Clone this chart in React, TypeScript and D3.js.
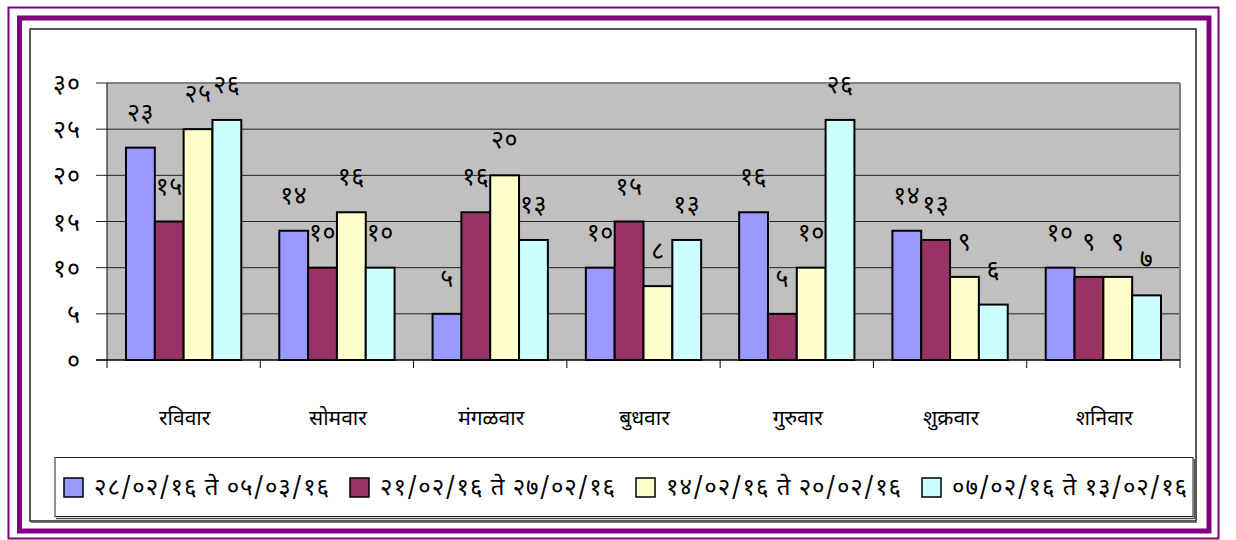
import React from "react";
import * as d3 from "d3";

const days = ["रविवार", "सोमवार", "मंगळवार", "बुधवार", "गुरुवार", "शुक्रवार", "शनिवार"];
const seriesNames = [
  "२८/०२/१६ ते ०५/०३/१६",
  "२१/०२/१६ ते २७/०२/१६",
  "१४/०२/१६ ते २०/०२/१६",
  "०७/०२/१६ ते १३/०२/१६",
];
const s1 = [23, 14, 5, 10, 16, 14, 10];
const s2 = [15, 10, 16, 15, 5, 13, 9];
const s3 = [25, 16, 20, 8, 10, 9, 9];
const s4 = [26, 10, 13, 13, 26, 6, 7];
const seriesValues = [s1, s2, s3, s4];
const yTicks = [0, 5, 10, 15, 20, 25, 30];
const colors = ["#9999FF", "#993366", "#FFFFCC", "#CCFFFF"];

const devDigits = "०१२३४५६७८९";
const toDev = (n: number) => String(n).replace(/[0-9]/g, (d) => devDigits[+d]);

const FONT = "'Noto Sans Devanagari', 'Noto Sans', 'Lohit Devanagari', sans-serif";

export default function App() {
  const W = 1236, H = 540;
  const plotL = 107, plotR = 1180, plotT = 83, plotB = 360;
  const x = d3.scaleBand<string>().domain(days).range([plotL, plotR]).padding(0);
  const step = x.step();
  const gapSide = 19;
  const xs = d3.scaleBand<number>().domain([0, 1, 2, 3]).range([gapSide, step - gapSide]).padding(0);
  const y = d3.scaleLinear().domain([0, 30]).range([plotB, plotT]);
  const legendX = d3.scaleLinear().domain([0, 1]).range([64, 350]);

  return (
    <svg width={W} height={H} style={{ position: "absolute", left: 0, top: 0, background: "#fff" }} fontFamily={FONT}>
      {/* decorative borders */}
      <rect x={8.5} y={7.5} width={1210} height={531} fill="none" stroke="#800080" strokeWidth={2} />
      <rect x={19.5} y={18} width={1189.5} height={513} fill="none" stroke="#800080" strokeWidth={5} />
      {/* chart area */}
      <rect x={30} y={29} width={1166} height={492} fill="#fff" stroke="#222" strokeWidth={1.5} />
      <line x1={31} x2={1197} y1={522.5} y2={522.5} stroke="#777" strokeWidth={1} />

      {/* plot area */}
      <rect x={plotL} y={plotT} width={plotR - plotL} height={plotB - plotT} fill="#C0C0C0" />
      {yTicks.filter((t) => t > 0 && t < 30).map((t) => (
        <line key={t} x1={plotL} x2={plotR} y1={y(t)} y2={y(t)} stroke="#222" strokeWidth={1} />
      ))}
      <line x1={plotL} x2={plotR} y1={plotT} y2={plotT} stroke="#808080" strokeWidth={2} />
      <line x1={plotR} x2={plotR} y1={plotT} y2={plotB} stroke="#808080" strokeWidth={2} />

      {/* bars */}
      {seriesValues.map((vals, si) =>
        vals.map((v, ci) => {
          const bx = (x(days[ci]) as number) + (xs(si) as number);
          return (
            <rect key={`${si}-${ci}`} x={bx} y={y(v)} width={xs.bandwidth()} height={plotB - y(v)}
              fill={colors[si]} stroke="#000" strokeWidth={2} />
          );
        })
      )}

      {/* axes */}
      <line x1={plotL} x2={plotL} y1={plotT} y2={plotB + 8} stroke="#000" strokeWidth={1} />
      <line x1={plotL - 11} x2={plotR} y1={plotB} y2={plotB} stroke="#000" strokeWidth={1.5} />
      {yTicks.map((t) => (
        <g key={t}>
          <line x1={plotL - 11} x2={plotL} y1={y(t)} y2={y(t)} stroke="#222" strokeWidth={1} />
          <text x={81} y={y(t) + 3} textAnchor="end" dominantBaseline="central" fontSize={25} letterSpacing={1} fill="#000">
            {toDev(t)}
          </text>
        </g>
      ))}
      {days.map((d, i) => (
        <line key={"tk" + i} x1={(x(d) as number) + step} x2={(x(d) as number) + step} y1={plotB} y2={plotB + 8}
          stroke="#000" strokeWidth={1} />
      ))}
      {days.map((d) => (
        <text key={d} x={(x(d) as number) + step / 2 + 1} y={420} textAnchor="middle" dominantBaseline="central"
          fontSize={21} fill="#000">
          {d}
        </text>
      ))}

      {/* data labels */}
      {seriesValues.map((vals, si) =>
        vals.map((v, ci) => {
          const cx = (x(days[ci]) as number) + (xs(si) as number) + xs.bandwidth() / 2;
          return (
            <text key={`l${si}-${ci}`} x={cx} y={y(v) - 33} textAnchor="middle" dominantBaseline="central"
              fontSize={25} letterSpacing={0.5} fill="#000">
              {toDev(v)}
            </text>
          );
        })
      )}

      {/* legend */}
      <rect x={55} y={457.5} width={1138} height={59} fill="#fff" stroke="#222" strokeWidth={1} />
      <line x1={56} x2={1194} y1={518.5} y2={518.5} stroke="#555" strokeWidth={1.5} />
      <line x1={1194.5} x2={1194.5} y1={459} y2={519} stroke="#555" strokeWidth={1.5} />
      {seriesNames.map((n, i) => {
        const lx = legendX(i);
        return (
          <g key={n}>
            <rect x={lx} y={478} width={19} height={19} fill={colors[i]} stroke="#000" strokeWidth={1.5} />
            <text x={lx + 30} y={489} dominantBaseline="central" fontSize={24} letterSpacing={1} fill="#000">{n}</text>
          </g>
        );
      })}
    </svg>
  );
}
